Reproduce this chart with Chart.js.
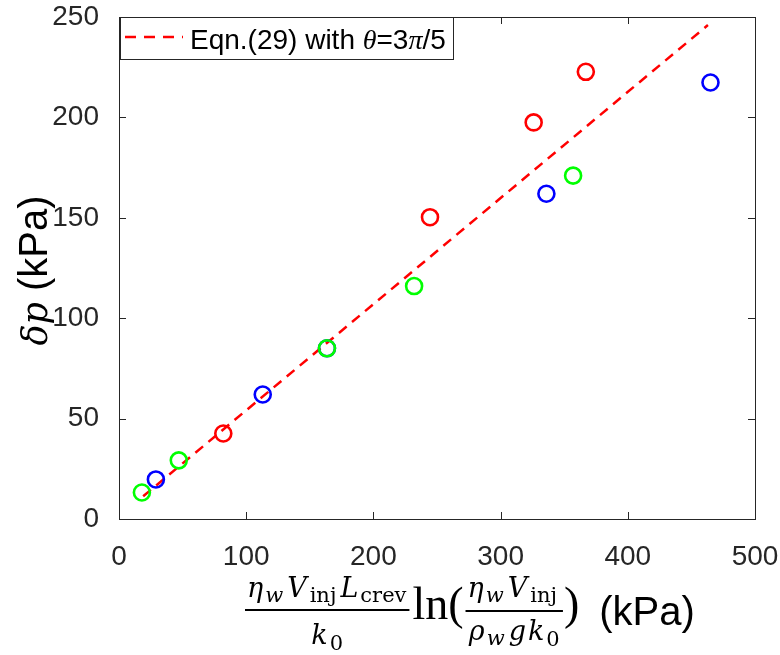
<!DOCTYPE html>
<html>
<head>
<meta charset="utf-8">
<script src="https://cdn.jsdelivr.net/npm/chart.js"></script>
<style>
  body { margin: 0; background: #fff; }
</style>
</head>
<body>
<canvas id="myChart" width="780" height="655"></canvas>

<script>
    // datos (kPa)
    var redX = [82, 244.5, 326, 367];
    var redY = [42.6, 150.3, 197.5, 222.7];
    var blueX = [29, 113, 163.5, 336, 465];
    var blueY = [19.7, 62, 85, 162, 217.4];
    var greenX = [18, 47, 163.5, 232, 357];
    var greenY = [13.2, 29.2, 85, 116, 171];
    // recta de la Eqn.(29)
    var fitX = [19, 463];
    var fitY = [11.3, 246];
    var xTicks = [0, 100, 200, 300, 400, 500];
    var yTicks = [0, 50, 100, 150, 200, 250];

    var SANS = '"Liberation Sans", Arial, sans-serif';
    var MATH = '"DejaVu Serif", "Liberation Serif", serif';
    var TIMES = '"Liberation Serif", serif';
    var AXIS = '#262626';

    function pts(xs, ys) {
        return xs.map(function (x, i) { return { x: x, y: ys[i] }; });
    }

    function fontOf(p) {
        return (p.i ? 'italic ' : '') + p.s + 'px ' + (p.f || MATH);
    }
    function runWidth(ctx, parts) {
        var w = 0;
        parts.forEach(function (p) { ctx.font = fontOf(p); w += ctx.measureText(p.t).width + (p.k || 0); });
        return w;
    }
    function drawRun(ctx, parts, x, y) {
        parts.forEach(function (p) {
            ctx.font = fontOf(p);
            ctx.fillText(p.t, x, y + (p.dy || 0));
            x += ctx.measureText(p.t).width + (p.k || 0);
        });
        return x;
    }
    function drawFrac(ctx, num, den, x, barY, up, down) {
        var wn = runWidth(ctx, num), wd = runWidth(ctx, den);
        var w = Math.max(wn, wd) + 4;
        drawRun(ctx, num, x + (w - wn) / 2, barY - up);
        drawRun(ctx, den, x + (w - wd) / 2, barY + down);
        ctx.fillRect(x, barY - 1, w, 2);
        return x + w;
    }

    var M = 27, S = 21;
    var etaW = [{ t: 'η', i: 1, s: M, k: 2 }, { t: 'w', i: 1, s: S, dy: 5, k: 4 }];
    var vInj = [{ t: 'V', i: 1, s: M, k: 3 }, { t: 'inj', s: S, dy: 5, k: 4 }];

    var decor = {
        id: 'decor',
        afterDraw: function (chart) {
            var ctx = chart.ctx, a = chart.chartArea;
            var xs = chart.scales.x, ys = chart.scales.y;
            ctx.save();
            // caja y marcas hacia dentro
            ctx.strokeStyle = AXIS;
            ctx.lineWidth = 1;
            ctx.beginPath();
            xTicks.forEach(function (v) {
                var px = Math.round(xs.getPixelForValue(v)) + 0.5;
                ctx.moveTo(px, a.bottom); ctx.lineTo(px, a.bottom - 7);
                ctx.moveTo(px, a.top); ctx.lineTo(px, a.top + 7);
            });
            yTicks.forEach(function (v) {
                var py = Math.round(ys.getPixelForValue(v)) + 0.5;
                ctx.moveTo(a.left, py); ctx.lineTo(a.left + 7, py);
                ctx.moveTo(a.right, py); ctx.lineTo(a.right - 7, py);
            });
            ctx.stroke();
            ctx.strokeRect(Math.round(a.left) + 0.5, Math.round(a.top) + 0.5,
                Math.round(a.right - a.left), Math.round(a.bottom - a.top));

            // leyenda
            var lx = a.left + 1, ly = a.top, lh = 42;
            var leg = [
                { t: 'Eqn.(29) with ', s: 28, f: SANS },
                { t: 'θ', i: 1, s: 28, f: TIMES },
                { t: '=3', s: 28, f: SANS },
                { t: 'π', i: 1, s: 28, f: TIMES },
                { t: '/5', s: 28, f: SANS }
            ];
            var tw = runWidth(ctx, leg);
            var lw = 70 + tw + 7;
            ctx.fillStyle = '#fff';
            ctx.fillRect(lx, ly, lw, lh);
            ctx.strokeStyle = AXIS;
            ctx.strokeRect(Math.round(lx) + 0.5, Math.round(ly) + 0.5, Math.round(lw), lh);
            ctx.strokeStyle = '#ff0000';
            ctx.lineWidth = 2.5;
            ctx.setLineDash([11, 8]);
            ctx.beginPath();
            ctx.moveTo(lx + 5, ly + 20); ctx.lineTo(lx + 63, ly + 20);
            ctx.stroke();
            ctx.setLineDash([]);
            ctx.fillStyle = '#000';
            ctx.textBaseline = 'alphabetic';
            drawRun(ctx, leg, lx + 70, ly + 32);

            // titulo del eje x
            ctx.fillStyle = '#000';
            var x = 245;
            x = drawFrac(ctx,
                etaW.concat(vInj, [{ t: 'L', i: 1, s: M, k: 2 }, { t: 'crev', s: S, dy: 5, k: 1 }]),
                [{ t: 'k', i: 1, s: M, k: 2 }, { t: '0', s: S, dy: 6 }],
                x, 610, 13, 34);
            x = drawRun(ctx, [{ t: 'ln(', s: 46, f: TIMES }], x + 3, 619);
            x = drawFrac(ctx,
                etaW.concat(vInj),
                [{ t: 'ρ', i: 1, s: M, k: 2 }, { t: 'w', i: 1, s: S, dy: 5, k: 4 }, { t: 'g', i: 1, s: M, k: 2 }, { t: 'k', i: 1, s: M, k: 2 }, { t: '0', s: S, dy: 6 }],
                x + 2, 611, 14, 29);
            x = drawRun(ctx, [{ t: ')', s: 46, f: TIMES }], x + 1, 619);
            drawRun(ctx, [{ t: '(kPa)', s: 40, f: SANS }], x + 20, 625);

            // titulo del eje y
            var yt = [{ t: 'δp', i: 1, s: 35 }, { t: ' (kPa)', s: 40, f: SANS }];
            var yw = runWidth(ctx, yt);
            ctx.translate(47, 270.5);
            ctx.rotate(-Math.PI / 2);
            drawRun(ctx, yt, -yw / 2, 0);
            ctx.restore();
        }
    };

    var ctx = document.getElementById('myChart').getContext('2d');
    var myChart = new Chart(ctx, {
        type: 'scatter',
        data: {
            datasets: [{
                label: 'green',
                data: pts(greenX, greenY),
                borderColor: '#00ff00',
                backgroundColor: 'rgba(0,0,0,0)',
                pointRadius: 8,
                borderWidth: 2.6,
                order: 1
            }, {
                label: 'blue',
                data: pts(blueX, blueY),
                borderColor: '#0000ff',
                backgroundColor: 'rgba(0,0,0,0)',
                pointRadius: 8,
                borderWidth: 2.6,
                order: 2
            }, {
                label: 'red',
                data: pts(redX, redY),
                borderColor: '#ff0000',
                backgroundColor: 'rgba(0,0,0,0)',
                pointRadius: 8,
                borderWidth: 2.6,
                order: 3
            }, {
                label: 'Eqn.(29)',
                data: pts(fitX, fitY),
                showLine: true,
                borderColor: '#ff0000',
                borderWidth: 2.5,
                borderDash: [10, 7],
                pointRadius: 0,
                order: 4
            }]
        },
        options: {
            responsive: false,
            animation: false,
            layout: { padding: { top: 17, right: 25, left: 0, bottom: 0 } },
            plugins: { legend: { display: false }, tooltip: { enabled: false } },
            scales: {
                x: {
                    type: 'linear', min: 0, max: 500,
                    afterFit: function (s) { s.height = 136; s.paddingLeft = 0; s.paddingRight = 0; },
                    afterBuildTicks: function (s) { s.ticks = xTicks.map(function (v) { return { value: v }; }); },
                    grid: { display: false },
                    border: { display: false },
                    ticks: { color: AXIS, font: { family: SANS, size: 28 }, padding: 13, maxRotation: 0 }
                },
                y: {
                    type: 'linear', min: 0, max: 250,
                    afterFit: function (s) { s.width = 119; s.paddingTop = 0; s.paddingBottom = 0; },
                    afterBuildTicks: function (s) { s.ticks = yTicks.map(function (v) { return { value: v }; }); },
                    grid: { display: false },
                    border: { display: false },
                    ticks: { color: AXIS, font: { family: SANS, size: 28 }, padding: 12 }
                }
            }
        },
        plugins: [decor]
    });
</script>
</body>
</html>
